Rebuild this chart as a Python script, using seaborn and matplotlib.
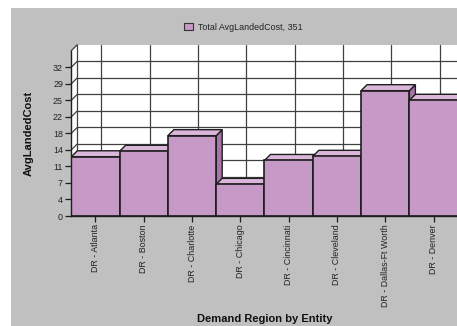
import matplotlib
matplotlib.use("Agg")
import matplotlib.pyplot as plt
import seaborn as sns
from matplotlib.patches import Polygon, Rectangle, Patch

regions = ["DR - Atlanta", "DR - Boston", "DR - Charlotte", "DR - Chicago",
           "DR - Cincinnati", "DR - Cleveland", "DR - Dallas-Ft Worth", "DR - Denver"]
avg_landed_cost = [12.9, 14.1, 17.5, 6.9, 12.1, 13.0, 27.3, 25.2]
ytick_vals = [0, 3.6, 7.2, 10.8, 14.4, 18.0, 21.6, 25.2, 28.8, 32.4]
ytick_labels = ["0", "4", "7", "11", "14", "18", "22", "25", "29", "32"]
y_max = 36
legend_label = "Total AvgLandedCost, 351"

front_color = "#c699c6"
top_color = "#dab6da"
side_color = "#a775a7"
edge_color = "#1e1e1e"
grid_color = "#404040"
bg_gray = "#c0c0c0"

sns.set_style("white")
plt.rcParams["font.family"] = ["Liberation Sans", "DejaVu Sans"]

fig = plt.figure(figsize=(4.57, 3.26), dpi=100, facecolor="white")
# grey panel behind the chart (white strip on left and top)
fig.patches.append(Rectangle((0.0234, 0), 1, 0.975, transform=fig.transFigure,
                             facecolor=bg_gray, edgecolor="none", zorder=-10))

ax = fig.add_axes([0.156, 0.3374, 0.8455, 0.507])
ax.set_facecolor("none")
ax.set_xlim(-0.5, len(regions) - 0.5)
ax.set_ylim(0, y_max)

# 3d depth offset: 6 px right, 6 px up, expressed in data units
bb = ax.get_window_extent()
ddx = 6 / (bb.width / len(regions))
ddy = 6 / (bb.height / y_max)
x0 = -0.5
x1 = len(regions) - 0.5

# walls
ax.add_patch(Rectangle((x0 + ddx, ddy), x1 - x0, y_max, facecolor="white",
                       edgecolor="none", clip_on=False, zorder=0.2))
ax.add_patch(Polygon([(x0, 0), (x0, y_max), (x0 + ddx, y_max + ddy), (x0 + ddx, ddy)],
                     closed=True, facecolor="white", edgecolor="none", clip_on=False, zorder=0.2))
ax.add_patch(Rectangle((x0, 0), x1 - x0, y_max, facecolor="white",
                       edgecolor="none", zorder=0.1))

# gridlines on back and left walls
for t in ytick_vals:
    ax.plot([x0 + ddx, x1 + ddx], [t + ddy, t + ddy], color=grid_color, lw=0.9,
            clip_on=False, zorder=1)
    ax.plot([x0, x0 + ddx], [t, t + ddy], color=grid_color, lw=0.9, clip_on=False, zorder=1)
for i in range(len(regions)):
    ax.plot([i + ddx, i + ddx], [ddy, y_max + ddy], color=grid_color, lw=0.9,
            clip_on=False, zorder=1)
ax.plot([x0 + ddx, x0 + ddx], [ddy, y_max + ddy], color=grid_color, lw=0.9,
        clip_on=False, zorder=1)
ax.plot([x0, x0 + ddx], [y_max, y_max + ddy], color=grid_color, lw=0.9,
        clip_on=False, zorder=1)

# side and top faces of the bars
for i, v in enumerate(avg_landed_cost):
    ax.add_patch(Polygon([(i + 0.5, 0), (i + 0.5, v), (i + 0.5 + ddx, v + ddy), (i + 0.5 + ddx, ddy)],
                         closed=True, facecolor=side_color, edgecolor=edge_color, lw=1.0,
                         clip_on=False, zorder=2))
for i, v in enumerate(avg_landed_cost):
    ax.add_patch(Polygon([(i - 0.5, v), (i + 0.5, v), (i + 0.5 + ddx, v + ddy), (i - 0.5 + ddx, v + ddy)],
                         closed=True, facecolor=top_color, edgecolor=edge_color, lw=1.0,
                         clip_on=False, zorder=3))

# front faces
sns.barplot(x=regions, y=avg_landed_cost, color=front_color, saturation=1, width=1.0,
            edgecolor=edge_color, linewidth=1.2, ax=ax, zorder=4)
ax.set_xlim(x0, x1)
ax.set_ylim(0, y_max)

for s in ["top", "right"]:
    ax.spines[s].set_visible(False)
for s in ["left", "bottom"]:
    ax.spines[s].set_color(edge_color)
    ax.spines[s].set_linewidth(1.0)
    ax.spines[s].set_zorder(5)

ax.set_yticks(ytick_vals)
ax.set_yticklabels(ytick_labels)
ax.tick_params(axis="y", length=4, width=0.9, color=edge_color, pad=2,
               labelsize=6.4, labelcolor="#222222", left=True)
ax.tick_params(axis="x", length=4, width=0.9, color=edge_color, pad=2,
               labelsize=6.4, labelcolor="#222222", bottom=True, labelrotation=90)

ax.set_ylabel("AvgLandedCost", fontsize=8, fontweight="bold", color="#111111")
ax.yaxis.set_label_coords(-0.097, 0.5)
ax.set_xlabel("Demand Region by Entity", fontsize=8, fontweight="bold", color="#111111")
ax.xaxis.set_label_coords(0.5, -0.59)

handles = [Patch(facecolor=front_color, edgecolor="#333333", lw=0.8)]
fig.legend(handles, [legend_label], loc="center", bbox_to_anchor=(0.532, 0.917),
           frameon=False, fontsize=6.4, handlelength=1.1, handleheight=0.9,
           handletextpad=0.5, labelcolor="#222222")

fig.savefig("out.png", dpi=100, facecolor=fig.get_facecolor())
